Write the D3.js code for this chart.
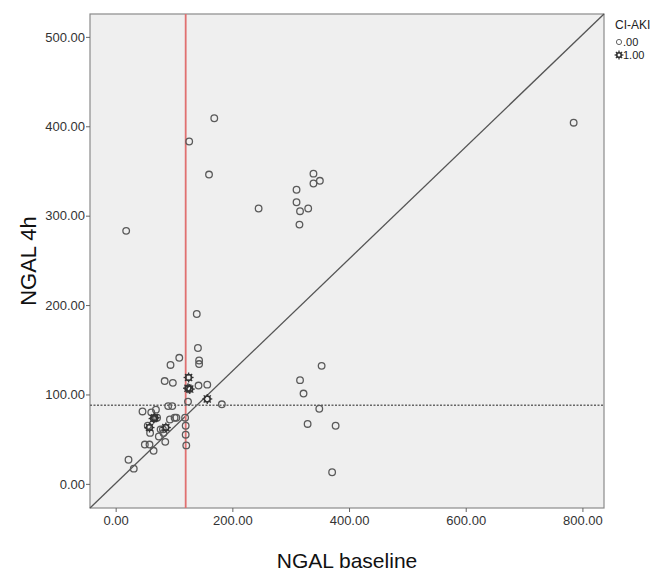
<!DOCTYPE html>
<html>
<head>
<meta charset="utf-8">
<script src="https://cdn.jsdelivr.net/npm/d3@7"></script>
<style>
  body { margin: 0; background: #fff; }
  svg { display: block; }
</style>
</head>
<body>
<svg id="chart"></svg>
<script>
// dati: NGAL baseline (x), NGAL 4h (y), gruppo CI-AKI
const baseline = [18, 126, 169, 160, 139, 245,
  339, 339, 350, 310, 310, 316, 330, 315,
  785,
  353, 316, 322, 349, 329, 377, 371,
  141, 143, 143, 109, 94, 84, 98, 142, 157, 124, 90, 97, 182, 46, 61, 69,
  71, 93, 101, 104, 119, 55, 59, 77, 81, 82, 74, 120, 120, 85, 50, 58, 65, 121, 22, 31,
  125, 127, 124, 157, 65, 67, 58, 86];
const ngal4h = [283, 383, 409, 346, 190, 308,
  347, 336, 339, 329, 315, 305, 308, 290,
  404,
  132, 116, 101, 84, 67, 65, 13,
  152, 138, 134, 141, 133, 115, 113, 110, 111, 92, 87, 87, 89, 81, 80, 83,
  74, 72, 74, 74, 74, 65, 57, 61, 61, 57, 53, 65, 55, 47, 44, 44, 37, 43, 27, 17,
  119, 106, 107, 95, 73, 74, 63, 63];
const ciAki = baseline.map((d, i) => i >= 58 ? 1 : 0);

const xTicks = [0, 200, 400, 600, 800];
const yTicks = [0, 100, 200, 300, 400, 500];
const legendLabels = [".00", "1.00"];

const cutBaseline = 120;  // linea rossa
const cut4h = 88;         // linea tratteggiata

const width = 653, height = 575;
const margin = { top: 14, right: 49, bottom: 67, left: 90 };
const font = "'Liberation Sans', Arial, sans-serif";

const svg = d3.select("#chart").attr("width", width).attr("height", height);

const x = d3.scaleLinear().domain([-44, 837]).range([margin.left, width - margin.right]);
const y = d3.scaleLinear().domain([-27, 525.6]).range([height - margin.bottom, margin.top]);

// sfondo area del grafico
svg.append("rect")
  .attr("x", x.range()[0]).attr("y", y.range()[1])
  .attr("width", x.range()[1] - x.range()[0])
  .attr("height", y.range()[0] - y.range()[1])
  .attr("fill", "#efefef")
  .attr("stroke", "#8a8a8a")
  .attr("stroke-width", 1.2);

// assi
const fmt = d3.format(".2f");
const xAxis = svg.append("g")
  .attr("transform", `translate(0,${y.range()[0]})`)
  .call(d3.axisBottom(x).tickValues(xTicks).tickFormat(fmt).tickSize(4).tickSizeOuter(0));
const yAxis = svg.append("g")
  .attr("transform", `translate(${x.range()[0]},0)`)
  .call(d3.axisLeft(y).tickValues(yTicks).tickFormat(fmt).tickSize(4).tickSizeOuter(0));

[xAxis, yAxis].forEach(a => {
  a.select(".domain").remove();
  a.selectAll(".tick line").attr("stroke", "#666");
  a.selectAll(".tick text")
    .attr("fill", "#333")
    .style("font-family", font)
    .style("font-size", "13px");
});
xAxis.selectAll(".tick text").attr("y", 8).attr("dy", "0.71em");
yAxis.selectAll(".tick text").attr("x", -5);

// linea diagonale da angolo ad angolo
svg.append("line")
  .attr("x1", x(x.domain()[0])).attr("y1", y(y.domain()[0]))
  .attr("x2", x(x.domain()[1])).attr("y2", y(y.domain()[1]))
  .attr("stroke", "#555").attr("stroke-width", 1.3);

// linee di riferimento
svg.append("line")
  .attr("x1", x(cutBaseline)).attr("x2", x(cutBaseline))
  .attr("y1", y.range()[0]).attr("y2", y.range()[1])
  .attr("stroke", "#e07070").attr("stroke-width", 1.8);

svg.append("line")
  .attr("x1", x.range()[0]).attr("x2", x.range()[1])
  .attr("y1", y(cut4h)).attr("y2", y(cut4h))
  .attr("stroke", "#666").attr("stroke-width", 1.4)
  .attr("stroke-dasharray", "2,1.5");

// punti
const points = baseline.map((b, i) => ({ b: b, h: ngal4h[i], g: ciAki[i] }));

function drawStar(sel, r) {
  sel.append("circle").attr("r", r).attr("fill", "none")
    .attr("stroke", "#333").attr("stroke-width", 1.4);
  for (let k = 0; k < 8; k++) {
    const a = k * Math.PI / 4;
    sel.append("line")
      .attr("x1", Math.cos(a) * (r - 1)).attr("y1", Math.sin(a) * (r - 1))
      .attr("x2", Math.cos(a) * (r + 2)).attr("y2", Math.sin(a) * (r + 2))
      .attr("stroke", "#333").attr("stroke-width", 1.3);
  }
}

const pts = svg.append("g");
pts.selectAll(".c0").data(points.filter(d => d.g === 0)).join("circle")
  .attr("class", "c0")
  .attr("cx", d => x(d.b)).attr("cy", d => y(d.h))
  .attr("r", 3.3)
  .attr("fill", "none").attr("stroke", "#5a5a5a").attr("stroke-width", 1.3);

pts.selectAll(".c1").data(points.filter(d => d.g === 1)).join("g")
  .attr("class", "c1")
  .attr("transform", d => `translate(${x(d.b)},${y(d.h)})`)
  .each(function() { drawStar(d3.select(this), 3); });

// legenda
const lg = svg.append("g").attr("transform", "translate(612,0)")
  .style("font-family", font);
lg.append("text").attr("x", 3).attr("y", 29).attr("font-size", 12).attr("fill", "#222").text("CI-AKI");
lg.append("circle").attr("cx", 7).attr("cy", 42).attr("r", 2.6)
  .attr("fill", "none").attr("stroke", "#666").attr("stroke-width", 1);
lg.append("text").attr("x", 11).attr("y", 46).attr("font-size", 11).attr("fill", "#222").text(legendLabels[0]);
const ls = lg.append("g").attr("transform", "translate(7,55)");
drawStar(ls, 2.4);
lg.append("text").attr("x", 11).attr("y", 59).attr("font-size", 11).attr("fill", "#222").text(legendLabels[1]);

// titoli assi
svg.append("text")
  .attr("x", (x.range()[0] + x.range()[1]) / 2).attr("y", 568)
  .attr("text-anchor", "middle")
  .style("font-family", font)
  .style("font-size", "21px").attr("fill", "#111")
  .text("NGAL baseline");

svg.append("text")
  .attr("transform", `translate(36,${(y.range()[0] + y.range()[1]) / 2}) rotate(-90)`)
  .attr("text-anchor", "middle")
  .style("font-family", font)
  .style("font-size", "22px").attr("fill", "#111")
  .text("NGAL 4h");
</script>
</body>
</html>
